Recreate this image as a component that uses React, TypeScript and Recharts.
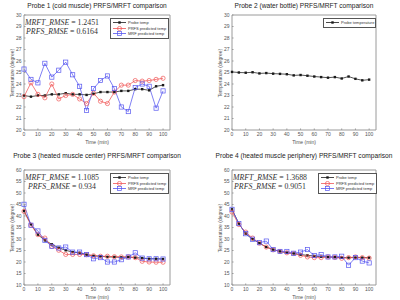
import React from "react";
import { LineChart, Line, XAxis, YAxis } from "recharts";

const time = [0, 5, 10, 15, 20, 25, 30, 35, 40, 45, 50, 55, 60, 65, 70, 75, 80, 85, 90, 95, 100];
const xTicks = [0, 10, 20, 30, 40, 50, 60, 70, 80, 90, 100];
const yTicksLow = [20, 21, 22, 23, 24, 25, 26, 27, 28, 29, 30];
const yTicksHigh = [10, 15, 20, 25, 30, 35, 40, 45, 50, 55, 60];

const p1Probe = [23.0, 22.9, 23.0, 23.0, 23.1, 23.1, 23.2, 23.1, 23.1, 23.05, 23.15, 23.3, 23.3, 23.3, 23.4, 23.4, 23.55, 23.55, 23.45, 23.8, 23.9];
const p1Prfs = [22.9, 24.1, 23.1, 22.8, 24.0, 22.7, 23.0, 23.1, 22.7, 22.3, 23.2, 22.5, 22.3, 23.3, 23.9, 23.9, 24.3, 24.25, 24.3, 24.4, 24.5];
const p1Mrft = [25.3, 24.4, 24.1, 25.8, 24.6, 25.2, 25.9, 24.8, 23.8, 21.7, 23.6, 24.3, 24.7, 23.6, 22.0, 21.6, 23.7, 24.0, 23.8, 21.9, 23.4];

const p2Probe = [25.05, 25.0, 24.98, 25.02, 24.92, 24.95, 24.9, 24.88, 24.85, 24.75, 24.78, 24.72, 24.65, 24.6, 24.55, 24.6, 24.48, 24.65, 24.45, 24.32, 24.38];

const p3Probe = [42.2, 36.4, 31.9, 29.4, 27.7, 26.2, 25.1, 24.3, 24.0, 23.2, 22.7, 22.5, 22.2, 22.2, 22.0, 22.2, 21.9, 21.7, 21.4, 21.4, 21.3];
const p3Prfs = [42.0, 36.0, 31.9, 30.4, 26.8, 25.1, 23.3, 23.3, 23.3, 23.2, 22.7, 22.5, 22.5, 22.3, 22.2, 22.2, 21.9, 20.3, 20.0, 19.9, 19.9];
const p3Mrft = [45.1, 36.0, 33.5, 29.4, 26.8, 26.1, 26.5, 24.3, 24.3, 23.2, 21.4, 21.9, 20.0, 20.0, 21.0, 22.2, 24.0, 21.7, 21.4, 21.4, 21.3];

const p4Probe = [42.9, 36.7, 32.3, 29.9, 28.2, 26.5, 25.4, 24.6, 24.0, 23.7, 23.2, 22.9, 22.6, 22.3, 22.2, 22.1, 21.9, 21.9, 21.9, 21.9, 21.9];
const p4Prfs = [41.7, 36.3, 33.0, 30.4, 28.2, 26.5, 25.3, 24.6, 24.0, 23.7, 22.9, 22.2, 21.9, 21.9, 22.2, 22.0, 21.6, 21.9, 22.2, 21.9, 21.7];
const p4Mrft = [42.9, 36.7, 32.3, 29.9, 28.4, 29.1, 25.4, 24.6, 24.6, 23.8, 24.3, 25.4, 22.8, 23.2, 22.2, 22.2, 22.5, 18.6, 21.9, 20.4, 19.6];

const BLACK = "#1a1a1a";
const RED = "#f05656";
const BLUE = "#5656f0";
const AXIS = "#9a9a9a";
const FONT = "'Liberation Sans', Arial, sans-serif";
const SERIF = "'Liberation Serif', 'Times New Roman', serif";

type DotKind = "star" | "circle" | "square";
type Series = { key: string; name: string; values: number[]; color: string; dot: DotKind };

function marker(kind: DotKind, color: string, cx: number, cy: number, key?: number) {
  if (kind === "circle")
    return <circle key={key} cx={cx} cy={cy} r={2.1} fill="none" stroke={color} strokeWidth={0.7} />;
  if (kind === "square")
    return <rect key={key} x={cx - 2.1} y={cy - 2.1} width={4.2} height={4.2} fill="none" stroke={color} strokeWidth={0.7} />;
  return <rect key={key} x={cx - 1.2} y={cy - 1.2} width={2.4} height={2.4} fill={color} />;
}

function makeDot(kind: DotKind, color: string) {
  return (props: any) => {
    const { cx, cy, index } = props;
    if (cx == null || cy == null) return <g key={index} />;
    return marker(kind, color, cx, cy, index);
  };
}

type PanelProps = {
  col: number;
  row: number;
  title: string;
  series: Series[];
  yDomain: [number, number];
  yTicks: number[];
  annot?: string[][];
  legend: { x: number; y: number; w: number };
};

function Panel({ col, row, title, series, yDomain, yTicks, annot, legend }: PanelProps) {
  const plotLeft = col === 0 ? 24 : 32;
  const plotRight = col === 0 ? 170 : 176;
  const plotTop = row === 0 ? 15 : 20;
  const plotBottom = row === 0 ? 130 : 135;
  const ox = col * 200;
  const oy = row * 150;

  const data = time.map((t, i) => {
    const r: any = { t };
    series.forEach((s) => (r[s.key] = s.values[i]));
    return r;
  });

  const tickStyle = { fontSize: 5, fill: "#555", fontFamily: FONT };
  const cx = (plotLeft + plotRight) / 2;
  const cy = (plotTop + plotBottom) / 2;

  return (
    <div style={{ position: "absolute", left: ox, top: oy, width: 200, height: 150 }}>
      <LineChart
        width={200}
        height={150}
        data={data}
        margin={{ top: plotTop - 1, right: 200 - plotRight - 1, bottom: 150 - plotBottom - 10, left: plotLeft - 14 }}
      >
        <XAxis
          xAxisId="b"
          dataKey="t"
          type="number"
          domain={[0, 105]}
          ticks={xTicks}
          height={10}
          stroke={AXIS}
          tickSize={-1.5}
          tickMargin={4}
          tick={tickStyle}
        />
        <XAxis xAxisId="t" dataKey="t" type="number" domain={[0, 105]} ticks={xTicks} orientation="top" height={1} stroke={AXIS} tickSize={-1.5} tick={false} />
        <YAxis yAxisId="l" domain={yDomain} ticks={yTicks} width={14} stroke={AXIS} tickSize={-1.5} tickMargin={4} tick={tickStyle} />
        <YAxis yAxisId="r" domain={yDomain} ticks={yTicks} orientation="right" width={1} stroke={AXIS} tickSize={-1.5} tick={false} />
        {series.map((s) => (
          <Line
            key={s.key}
            xAxisId="b"
            yAxisId="l"
            dataKey={s.key}
            stroke={s.color}
            strokeWidth={0.75}
            dot={makeDot(s.dot, s.color)}
            isAnimationActive={false}
          />
        ))}
      </LineChart>

      <div style={{ position: "absolute", left: 0, width: 200, top: 2, textAlign: "center", fontFamily: FONT, fontSize: 6.6, color: "#222", whiteSpace: "nowrap" }}>
        <span style={{ position: "relative", left: cx - 100 }}>{title}</span>
      </div>

      <div
        style={{
          position: "absolute",
          left: plotLeft - 12,
          top: cy,
          transform: "translate(-50%, -50%) rotate(-90deg)",
          fontFamily: FONT,
          fontSize: 5,
          color: "#555",
          whiteSpace: "nowrap",
        }}
      >
        Temperature (degree)
      </div>

      <div
        style={{
          position: "absolute",
          left: cx,
          top: plotBottom + 9,
          transform: "translateX(-50%)",
          fontFamily: FONT,
          fontSize: 5,
          color: "#555",
          whiteSpace: "nowrap",
        }}
      >
        Time (min)
      </div>

      {annot && (
        <div
          style={{
            position: "absolute",
            left: plotLeft + 38,
            top: plotTop + 3,
            transform: "translateX(-50%)",
            fontFamily: SERIF,
            fontSize: 7.8,
            lineHeight: "9px",
            color: "#333",
            textAlign: "center",
            whiteSpace: "nowrap",
          }}
        >
          {annot.map((a, i) => (
            <div key={i}>
              <i>{a[0]}</i> = {a[1]}
            </div>
          ))}
        </div>
      )}

      <div
        style={{
          position: "absolute",
          left: legend.x - ox,
          top: legend.y - oy,
          width: legend.w,
          border: "0.6px solid #555",
          background: "#fff",
          padding: "1px 0",
          fontFamily: FONT,
          fontSize: 4,
          color: "#333",
        }}
      >
        {series.map((s) => (
          <div key={s.key} style={{ display: "flex", alignItems: "center", height: 5.5 }}>
            <svg width={15} height={5} style={{ marginLeft: 1, marginRight: 1 }}>
              <line x1={1} y1={2.5} x2={14} y2={2.5} stroke={s.color} strokeWidth={0.8} />
              {marker(s.dot, s.color, 7.5, 2.5)}
            </svg>
            <span style={{ whiteSpace: "nowrap" }}>{s.name}</span>
          </div>
        ))}
      </div>
    </div>
  );
}

const threeSeries = (probe: number[], prfs: number[], mrft: number[]): Series[] => [
  { key: "probe", name: "Probe temp", values: probe, color: BLACK, dot: "star" },
  { key: "prfs", name: "PRFS predicted temp", values: prfs, color: RED, dot: "circle" },
  { key: "mrft", name: "MRF predicted temp", values: mrft, color: BLUE, dot: "square" },
];

export default function App() {
  return (
    <div style={{ position: "fixed", left: 0, top: 0, width: 400, height: 300, background: "#fff", overflow: "hidden" }}>
      <Panel
        col={0}
        row={0}
        title="Probe 1 (cold muscle) PRFS/MRFT comparison"
        series={threeSeries(p1Probe, p1Prfs, p1Mrft)}
        yDomain={[20, 30]}
        yTicks={yTicksLow}
        annot={[["MRFT_RMSE", "1.2451"], ["PRFS_RMSE", "0.6164"]]}
        legend={{ x: 110, y: 18, w: 57 }}
      />
      <Panel
        col={1}
        row={0}
        title="Probe 2 (water bottle) PRFS/MRFT comparison"
        series={[{ key: "probe", name: "Probe temperature", values: p2Probe, color: BLACK, dot: "star" }]}
        yDomain={[20, 30]}
        yTicks={yTicksLow}
        legend={{ x: 323, y: 18, w: 51 }}
      />
      <Panel
        col={0}
        row={1}
        title="Probe 3 (heated muscle center) PRFS/MRFT comparison"
        series={threeSeries(p3Probe, p3Prfs, p3Mrft)}
        yDomain={[10, 60]}
        yTicks={yTicksHigh}
        annot={[["MRFT_RMSE", "1.1085"], ["PRFS_RMSE", "0.934"]]}
        legend={{ x: 110, y: 173, w: 57 }}
      />
      <Panel
        col={1}
        row={1}
        title="Probe 4 (heated muscle periphery) PRFS/MRFT comparison"
        series={threeSeries(p4Probe, p4Prfs, p4Mrft)}
        yDomain={[10, 60]}
        yTicks={yTicksHigh}
        annot={[["MRFT_RMSE", "1.3688"], ["PRFS_RMSE", "0.9051"]]}
        legend={{ x: 318, y: 173, w: 57 }}
      />
    </div>
  );
}
